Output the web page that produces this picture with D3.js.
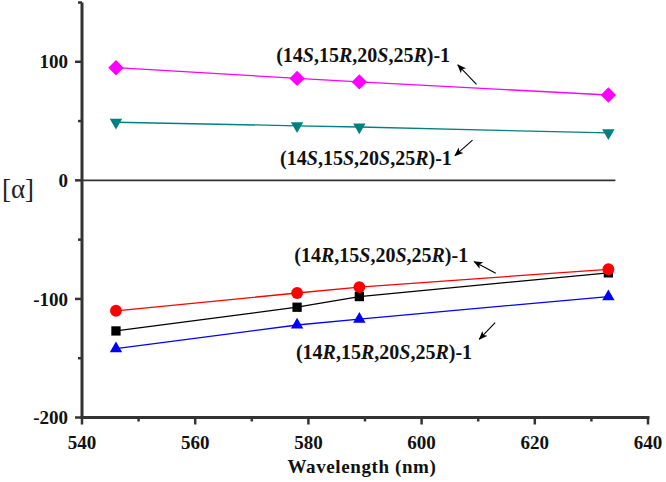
<!DOCTYPE html>
<html>
<head>
<meta charset="utf-8">
<script src="https://cdn.jsdelivr.net/npm/d3@7"></script>
<style>
  html, body { margin: 0; padding: 0; background: #fff; }
  svg { display: block; }
  text { font-family: "Liberation Serif", "Times New Roman", serif; }
</style>
</head>
<body>
<svg id="chart" width="666" height="482"></svg>
<script>
// ---- data ----
const wavelengths = [546, 578, 589, 633];
const s14S15R20S25R = [95, 86, 83, 72];     // magenta diamonds
const s14S15S20S25R = [49, 46, 45, 40];     // teal down-triangles
const s14R15S20S25R = [-110, -95, -90, -75]; // red circles
const sBlack        = [-127, -107, -98, -78]; // black squares
const s14R15R20S25R = [-142, -122, -117, -98]; // blue up-triangles
const xTicks = [540, 560, 580, 600, 620, 640];
const yTicks = [-200, -100, 0, 100];

const series = [
  { values: s14S15R20S25R, color: "#FF00FF", shape: "diamond" },
  { values: s14S15S20S25R, color: "#008080", shape: "tridown" },
  { values: sBlack,        color: "#000000", shape: "square" },
  { values: s14R15S20S25R, color: "#FF0000", shape: "circle" },
  { values: s14R15R20S25R, color: "#0000FF", shape: "triup" }
];

// annotations: label parts [text, italic], text position (data), arrow from/to (data)
const annotations = [
  { parts: [["(14",0],["S",1],[",15",0],["R",1],[",20",0],["S",1],[",25",0],["R",1],[")-1",0]],
    tx: 574.3, ty: 105.5, ax1: 609.7, ay1: 81, ax2: 606.4, ay2: 97.3 },
  { parts: [["(14",0],["S",1],[",15",0],["S",1],[",20",0],["S",1],[",25",0],["R",1],[")-1",0]],
    tx: 575, ty: 18.5, ax1: 609, ay1: 34, ax2: 605.9, ay2: 20.8 },
  { parts: [["(14",0],["R",1],[",15",0],["S",1],[",20",0],["S",1],[",25",0],["R",1],[")-1",0]],
    tx: 577.5, ty: -63, ax1: 613.1, ay1: -78.4, ax2: 609.3, ay2: -68.6 },
  { parts: [["(14",0],["R",1],[",15",0],["R",1],[",20",0],["S",1],[",25",0],["R",1],[")-1",0]],
    tx: 577.8, ty: -144.5, ax1: 613, ay1: -120, ax2: 610.2, ay2: -134 }
];

// ---- layout ----
const svg = d3.select("#chart");
const x = d3.scaleLinear().domain([540, 640]).range([82, 648]);
const y = d3.scaleLinear().domain([-200, 150]).range([417.5, 2.5]);

const axisColor = "#333";

// defs: arrowhead
svg.append("defs").append("marker")
  .attr("id", "ah").attr("viewBox", "0 0 10 10").attr("refX", 9).attr("refY", 5)
  .attr("markerWidth", 9).attr("markerHeight", 9).attr("markerUnits", "userSpaceOnUse")
  .attr("orient", "auto")
  .append("path").attr("d", "M0,1 L10,5 L0,9 L2.5,5 Z").attr("fill", "#000");

// zero line
svg.append("line")
  .attr("x1", x(540)).attr("x2", x(633) + 7)
  .attr("y1", y(0)).attr("y2", y(0))
  .attr("stroke", "#333").attr("stroke-width", 1.6);

// y axis
const yAxisG = svg.append("g").attr("transform", `translate(${x(540)},0)`);
yAxisG.append("line").attr("x1", 0).attr("x2", 0).attr("y1", y(150)).attr("y2", y(-200))
  .attr("stroke", axisColor).attr("stroke-width", 3);
d3.range(-200, 151, 50).forEach(v => {
  const major = yTicks.includes(v);
  yAxisG.append("line").attr("x1", 0).attr("x2", major ? -7 : -4)
    .attr("y1", y(v)).attr("y2", y(v)).attr("stroke", axisColor).attr("stroke-width", 2.5);
});
yTicks.forEach(v => {
  yAxisG.append("text").attr("x", -14).attr("y", y(v)).attr("dy", "0.35em")
    .attr("text-anchor", "end").attr("font-weight", "bold").attr("font-size", 19)
    .attr("fill", "#111").text(v);
});

// x axis
const xAxisG = svg.append("g").attr("transform", `translate(0,${y(-200)})`);
xAxisG.append("line").attr("x1", x(540) - 1.5).attr("x2", x(640) + 1.5).attr("y1", 0).attr("y2", 0)
  .attr("stroke", axisColor).attr("stroke-width", 3);
d3.range(540, 641, 10).forEach(v => {
  const major = xTicks.includes(v);
  xAxisG.append("line").attr("x1", x(v)).attr("x2", x(v)).attr("y1", 0).attr("y2", major ? 7 : 4)
    .attr("stroke", axisColor).attr("stroke-width", 2.5);
});
xTicks.forEach(v => {
  xAxisG.append("text").attr("x", x(v)).attr("y", 31)
    .attr("text-anchor", "middle").attr("font-weight", "bold").attr("font-size", 19)
    .attr("fill", "#111").text(v);
});

// axis titles
svg.append("text").attr("x", 362).attr("y", 473).attr("text-anchor", "middle")
  .attr("font-weight", "bold").attr("font-size", 19).attr("letter-spacing", 0.6)
  .attr("fill", "#111").text("Wavelength (nm)");
svg.append("text").attr("x", 18).attr("y", 198).attr("text-anchor", "middle")
  .attr("font-size", 27).attr("fill", "#222").text("[α]");

// series
const line = d3.line().x((d, i) => x(wavelengths[i])).y(d => y(d));
series.forEach(s => {
  svg.append("path").datum(s.values).attr("d", line)
    .attr("fill", "none").attr("stroke", s.color).attr("stroke-width", 1.3);
});
const symMap = {
  diamond: d3.symbol().type(d3.symbolDiamond2).size(150),
  square: d3.symbol().type(d3.symbolSquare2).size(110),
  circle: d3.symbol().type(d3.symbolCircle).size(110),
  triup: d3.symbol().type(d3.symbolTriangle2).size(110),
  tridown: d3.symbol().type(d3.symbolTriangle2).size(110)
};
series.forEach(s => {
  svg.append("g").selectAll("path").data(s.values).join("path")
    .attr("transform", (d, i) => `translate(${x(wavelengths[i])},${y(d)})` + (s.shape === "tridown" ? " rotate(180)" : ""))
    .attr("d", symMap[s.shape]())
    .attr("fill", s.color);
});

// annotations
annotations.forEach(a => {
  const t = svg.append("text").attr("x", x(a.tx)).attr("y", y(a.ty)).attr("dy", "0.35em")
    .attr("font-weight", "bold").attr("font-size", 20).attr("fill", "#111");
  a.parts.forEach(p => {
    t.append("tspan").attr("font-style", p[1] ? "italic" : "normal").text(p[0]);
  });
  svg.append("line").attr("x1", x(a.ax1)).attr("y1", y(a.ay1))
    .attr("x2", x(a.ax2)).attr("y2", y(a.ay2))
    .attr("stroke", "#000").attr("stroke-width", 1.1).attr("marker-end", "url(#ah)");
});
</script>
</body>
</html>
